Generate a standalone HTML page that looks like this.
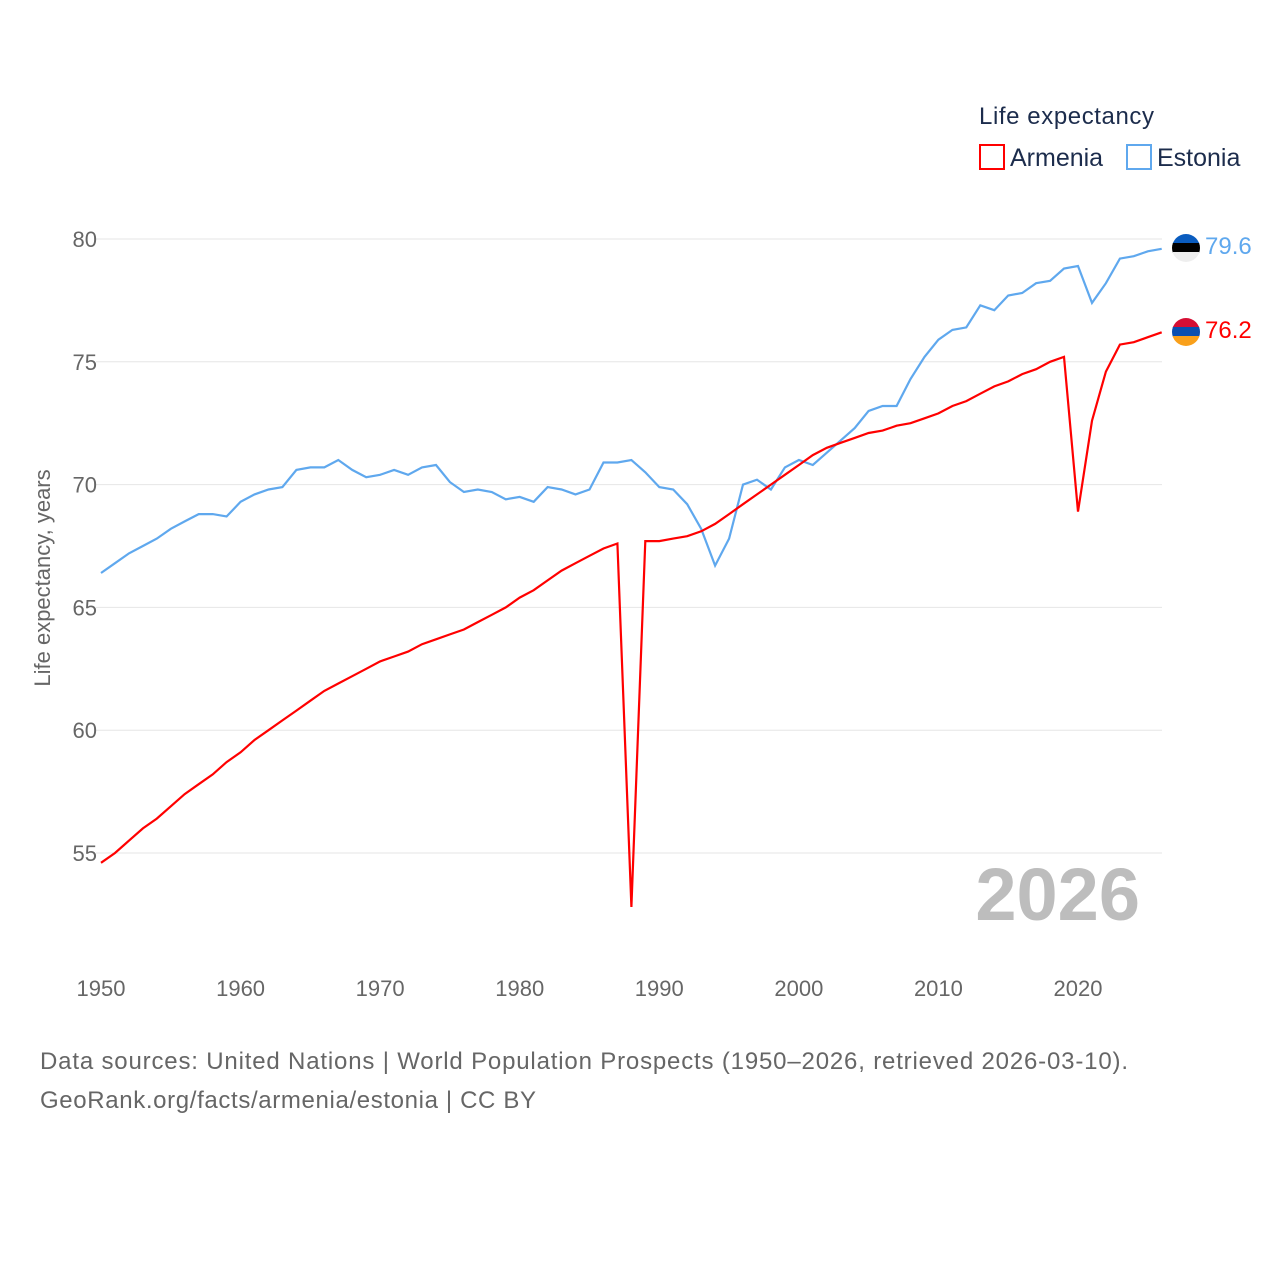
<!DOCTYPE html>
<html><head><meta charset="utf-8"><style>
body{margin:0;background:#fff;}
svg{display:block;font-family:"Liberation Sans",sans-serif;}
</style></head><body>
<svg id="chart" width="1280" height="1280">
<defs>
<clipPath id="cE"><circle cx="1186" cy="248" r="14"/></clipPath>
<clipPath id="cA"><circle cx="1186" cy="332" r="14"/></clipPath>
</defs>
<g id="grid"></g>
<g id="yticks"></g>
<g id="xticks"></g>
<text x="50" y="578" transform="rotate(-90 50 578)" text-anchor="middle" font-size="22" fill="#666">Life expectancy, years</text>
<text x="1140" y="920" text-anchor="end" font-size="74" font-weight="bold" fill="#bdbdbd">2026</text>
<g id="lines"></g>
<text x="979" y="124" font-size="24" fill="#1c2c4c" textLength="175">Life expectancy</text>
<g>
<rect x="980" y="145" width="24" height="24" fill="none" stroke="#ff0000" stroke-width="2"/>
<text x="1010" y="166" font-size="25" fill="#1c2c4c">Armenia</text></g>
<g>
<rect x="1127" y="145" width="24" height="24" fill="none" stroke="#5fa8ee" stroke-width="2"/>
<text x="1157" y="166" font-size="25" fill="#1c2c4c">Estonia</text></g>
<g clip-path="url(#cE)">
<rect x="1172" y="234" width="28" height="10" fill="#0a5cbf"/><rect x="1172" y="243" width="28" height="10" fill="#000"/><rect x="1172" y="252" width="28" height="10" fill="#eee"/></g>
<g clip-path="url(#cA)">
<rect x="1172" y="318" width="28" height="10" fill="#d60f34"/><rect x="1172" y="327" width="28" height="10" fill="#0a4fb0"/><rect x="1172" y="336" width="28" height="10" fill="#f9a01b"/></g>
<text x="1205" y="254" font-size="24" fill="#5fa8ee">79.6</text>
<text x="1205" y="338" font-size="24" fill="#ff0000">76.2</text>
<text x="40" y="1069" font-size="24" fill="#666" textLength="1088">Data sources: United Nations | World Population Prospects (1950–2026, retrieved 2026-03-10).</text>
<text x="40" y="1108" font-size="24" fill="#666" textLength="496">GeoRank.org/facts/armenia/estonia | CC BY</text>
</svg>
<script>
const years=[];for(let y=1950;y<=2026;y++)years.push(y);
const estonia=[66.4,66.8,67.2,67.5,67.8,68.2,68.5,68.8,68.8,68.7,69.3,69.6,69.8,69.9,70.6,70.7,70.7,71.0,70.6,70.3,70.4,70.6,70.4,70.7,70.8,70.1,69.7,69.8,69.7,69.4,69.5,69.3,69.9,69.8,69.6,69.8,70.9,70.9,71.0,70.5,69.9,69.8,69.2,68.2,66.7,67.8,70.0,70.2,69.8,70.7,71.0,70.8,71.3,71.8,72.3,73.0,73.2,73.2,74.3,75.2,75.9,76.3,76.4,77.3,77.1,77.7,77.8,78.2,78.3,78.8,78.9,77.4,78.2,79.2,79.3,79.5,79.6];
const armenia=[54.6,55.0,55.5,56.0,56.4,56.9,57.4,57.8,58.2,58.7,59.1,59.6,60.0,60.4,60.8,61.2,61.6,61.9,62.2,62.5,62.8,63.0,63.2,63.5,63.7,63.9,64.1,64.4,64.7,65.0,65.4,65.7,66.1,66.5,66.8,67.1,67.4,67.6,52.8,67.7,67.7,67.8,67.9,68.1,68.4,68.8,69.2,69.6,70.0,70.4,70.8,71.2,71.5,71.7,71.9,72.1,72.2,72.4,72.5,72.7,72.9,73.2,73.4,73.7,74.0,74.2,74.5,74.7,75.0,75.2,68.9,72.6,74.6,75.7,75.8,76.0,76.2];
const yTicks=[55,60,65,70,75,80];
const xTicks=[1950,1960,1970,1980,1990,2000,2010,2020];
const NS='http://www.w3.org/2000/svg';
const xS=y=>101+(y-1950)*(1078-101)/70;
const yS=v=>239+(80-v)*(853-239)/25;
function mk(t,a,p){const e=document.createElementNS(NS,t);for(const k in a)e.setAttribute(k,a[k]);p.appendChild(e);return e;}
const g=document.getElementById('grid'),yt=document.getElementById('yticks'),xt=document.getElementById('xticks'),ln=document.getElementById('lines');
yTicks.forEach(v=>{
 const l=mk('line',{x1:96,x2:1162,y1:yS(v),y2:yS(v),stroke:'#e6e6e6','stroke-width':1},g);
 
 
 const t=mk('text',{x:97,y:yS(v)+8,'text-anchor':'end','font-size':22,fill:'#666'},yt);
 
 
 t.textContent=v;
});
xTicks.forEach(v=>{
 const t=mk('text',{x:xS(v),y:996,'text-anchor':'middle','font-size':22,fill:'#666'},xt);
 
 
 t.textContent=v;
});
function line(vals,col,name){
 const d=vals.map((v,i)=>(i?'L':'M')+xS(years[i]).toFixed(1)+' '+yS(v).toFixed(1)).join(' ');
 const p=mk('path',{d:d,fill:'none',stroke:col,'stroke-width':2.2,'stroke-linejoin':'miter'},ln);
 
 
}
line(estonia,'#5fa8ee','estonia-line');
line(armenia,'#ff0000','armenia-line');
</script>
</body></html>
